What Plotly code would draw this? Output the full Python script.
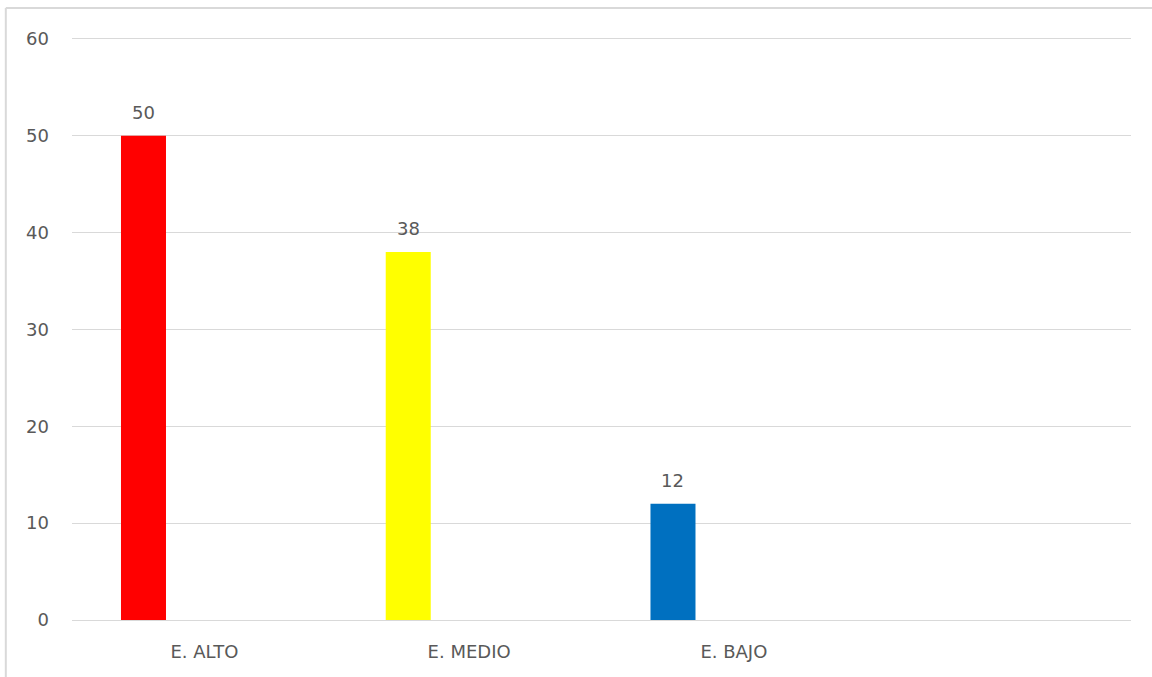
import plotly.graph_objects as go

# Categories and values
categories = ["E. ALTO", "E. MEDIO", "E. BAJO", ""]
values = [50, 38, 12]
bar_colors = ["#FF0000", "#FFFF00", "#0070C0"]
y_ticks = [0, 10, 20, 30, 40, 50, 60]

text_color = "#595959"
grid_color = "#D9D9D9"
font_family = "DejaVu Sans"
font_size = 18

positions = list(range(len(categories)))
bar_width = 0.17
bar_offset = -0.315

fig = go.Figure()
fig.add_trace(go.Bar(
    x=positions[:len(values)],
    y=values,
    marker=dict(color=bar_colors, line=dict(width=0)),
    width=bar_width,
    offset=bar_offset,
    hoverinfo="skip",
))

# Value labels above each bar
for pos, val in zip(positions, values):
    fig.add_annotation(
        x=pos + bar_offset + bar_width / 2, y=val,
        xref="x", yref="y",
        text=str(val), showarrow=False,
        yanchor="bottom", yshift=11,
        font=dict(family=font_family, size=font_size, color=text_color),
    )

# Light border of the chart area (left and top edges)
border_top = 1.0497
fig.add_shape(type="line", xref="paper", yref="paper",
              x0=-0.0625, x1=-0.0625, y0=-0.12, y1=border_top,
              line=dict(color=grid_color, width=2))
fig.add_shape(type="line", xref="paper", yref="paper",
              x0=-0.0625, x1=1.05, y0=border_top, y1=border_top,
              line=dict(color=grid_color, width=2))

fig.update_layout(
    width=1152, height=677,
    margin=dict(l=72, r=21, t=37, b=57),
    paper_bgcolor="white",
    plot_bgcolor="white",
    showlegend=False,
    font=dict(family=font_family, size=font_size, color=text_color),
    xaxis=dict(
        range=[-0.5, len(categories) - 0.5],
        tickvals=positions,
        ticktext=categories,
        showgrid=False,
        zeroline=False,
        showline=False,
        ticks="",
        ticklabelstandoff=19,
        tickfont=dict(family=font_family, size=font_size, color=text_color),
    ),
    yaxis=dict(
        range=[0, 60.2],
        tickvals=y_ticks,
        showgrid=True,
        gridcolor=grid_color,
        gridwidth=1,
        zeroline=True,
        zerolinecolor=grid_color,
        zerolinewidth=1,
        showline=False,
        ticks="",
        ticklabelstandoff=22,
        tickfont=dict(family=font_family, size=font_size, color=text_color),
    ),
)

fig.write_html("out.html")
